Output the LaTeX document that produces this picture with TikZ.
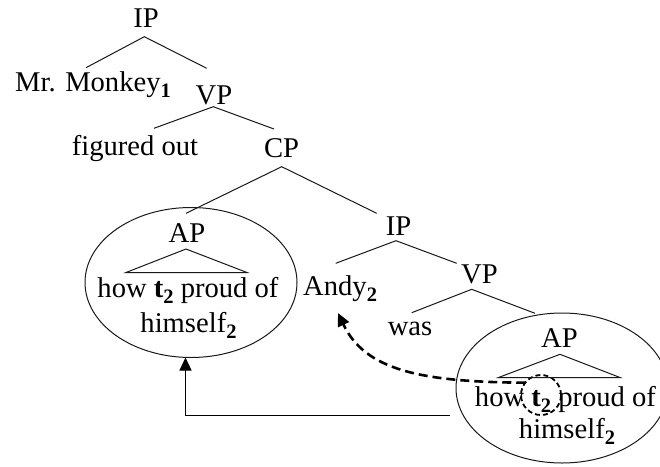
\documentclass[tikz,border=0pt]{standalone}
\usepackage{fontspec}
\setmainfont{Liberation Serif}
\usetikzlibrary{arrows.meta,calc,shapes.geometric}
\newcommand\subn[1]{\raisebox{-6pt}{\fontsize{20.5}{20}\selectfont\bfseries #1}}
\begin{document}
\begin{tikzpicture}[x=1pt,y=-1pt,
  lbl/.style={inner sep=0pt, anchor=base, font=\fontsize{28.6}{33}\selectfont},
  edge/.style={line width=1pt, draw=black!90},
  ell/.style={draw=black!90, ellipse, line width=1pt, minimum width=212pt, minimum height=150pt, inner sep=0pt, outer sep=0pt},
  dcirc/.style={draw, circle, line width=1.8pt, dash pattern=on 5pt off 3pt, minimum size=40pt, inner sep=0pt, outer sep=0pt},
  solidarrow/.style={line width=1pt, -{Triangle[length=13pt,width=12pt]}},
  movearrow/.style={line width=2.6pt, dash pattern=on 9pt off 5pt, -{Triangle[length=13pt,width=12pt]}}
]
\useasboundingbox (0,0) rectangle (660,466);

% ellipses
\node[ell] (ellL) at (191,282.5) {};
\node[ell] (ellR) at (562,388) {};

% tree labels
\node[lbl] (ip1) at (146,27) {IP};
\node[lbl, anchor=base west] (mm) at (15,91) {Mr. Monkey\subn{1}};
\node[lbl] (vp1) at (214,104) {VP};
\node[lbl] (fo) at (135,155) {figured out};
\node[lbl] (cp) at (281.5,157) {CP};
\node[lbl] (ip2) at (398.5,235) {IP};
\node[lbl, anchor=base west] (andy) at (303,295) {Andy\subn{2}};
\node[lbl] (vp2) at (479.5,283) {VP};
\node[lbl] (was) at (410,335) {was};

% left AP
\node[lbl] (apL) at (187,242) {AP};
\node[lbl] (hL) at (188,297) {how \textbf{t}\subn{2} proud of};
\node[lbl] (sL) at (188.5,332) {himself\subn{2}};
% right AP
\node[lbl] (apR) at (559.5,347) {AP};
\node[lbl] (hR) at (565.5,406) {how \textbf{t}\subn{2} proud of};
\node[lbl] (sR) at (567,438) {himself\subn{2}};

% trace circle
\node[dcirc] (tc) at (541,395) {};

% tree edges
\draw[edge] ($(mm.base west)+(71,-23.3)$) -- ($(ip1.base)+(-1.7,9.7)$) -- ($(vp1.base)+(-7.3,-35.7)$);
\draw[edge] ($(fo.base)+(19,-26.7)$) -- ($(vp1.base)+(-0.7,2.7)$) -- ($(cp.base)+(-7.5,-28)$);
\draw[edge] ($(apL.base)+(-1,-28.7)$) -- ($(cp.base)+(0.2,9.7)$) -- ($(ip2.base)+(-21.8,-21.7)$);
\draw[edge] ($(andy.base west)+(32.7,-31.7)$) -- ($(ip2.base)+(-2.5,5.7)$) -- ($(vp2.base)+(-22.8,-19.7)$);
\draw[edge] ($(was.base)+(1.7,-22.3)$) -- ($(vp2.base)+(-7.8,6.3)$) -- ($(apR.base)+(-24.5,-33.7)$);

% triangles
\draw[edge] ($(apL.base)+(-1,7)$) -- ($(apL.base)+(-61,30.5)$) -- ($(apL.base)+(60,30.5)$) -- cycle;
\draw[edge] ($(apR.base)+(0.5,7.3)$) -- ($(apR.base)+(-61,30.5)$) -- ($(apR.base)+(60.5,30.5)$) -- cycle;

% arrows
\draw[solidarrow] ($(ellR.west)+(-6,27.5)$) -| ($(ellL.south)+(-5.5,0)$);
\draw[movearrow] (tc.142) .. controls (420,382) and (365,370) .. ($(andy.base west)+(35,18)$);
\end{tikzpicture}
\end{document}
